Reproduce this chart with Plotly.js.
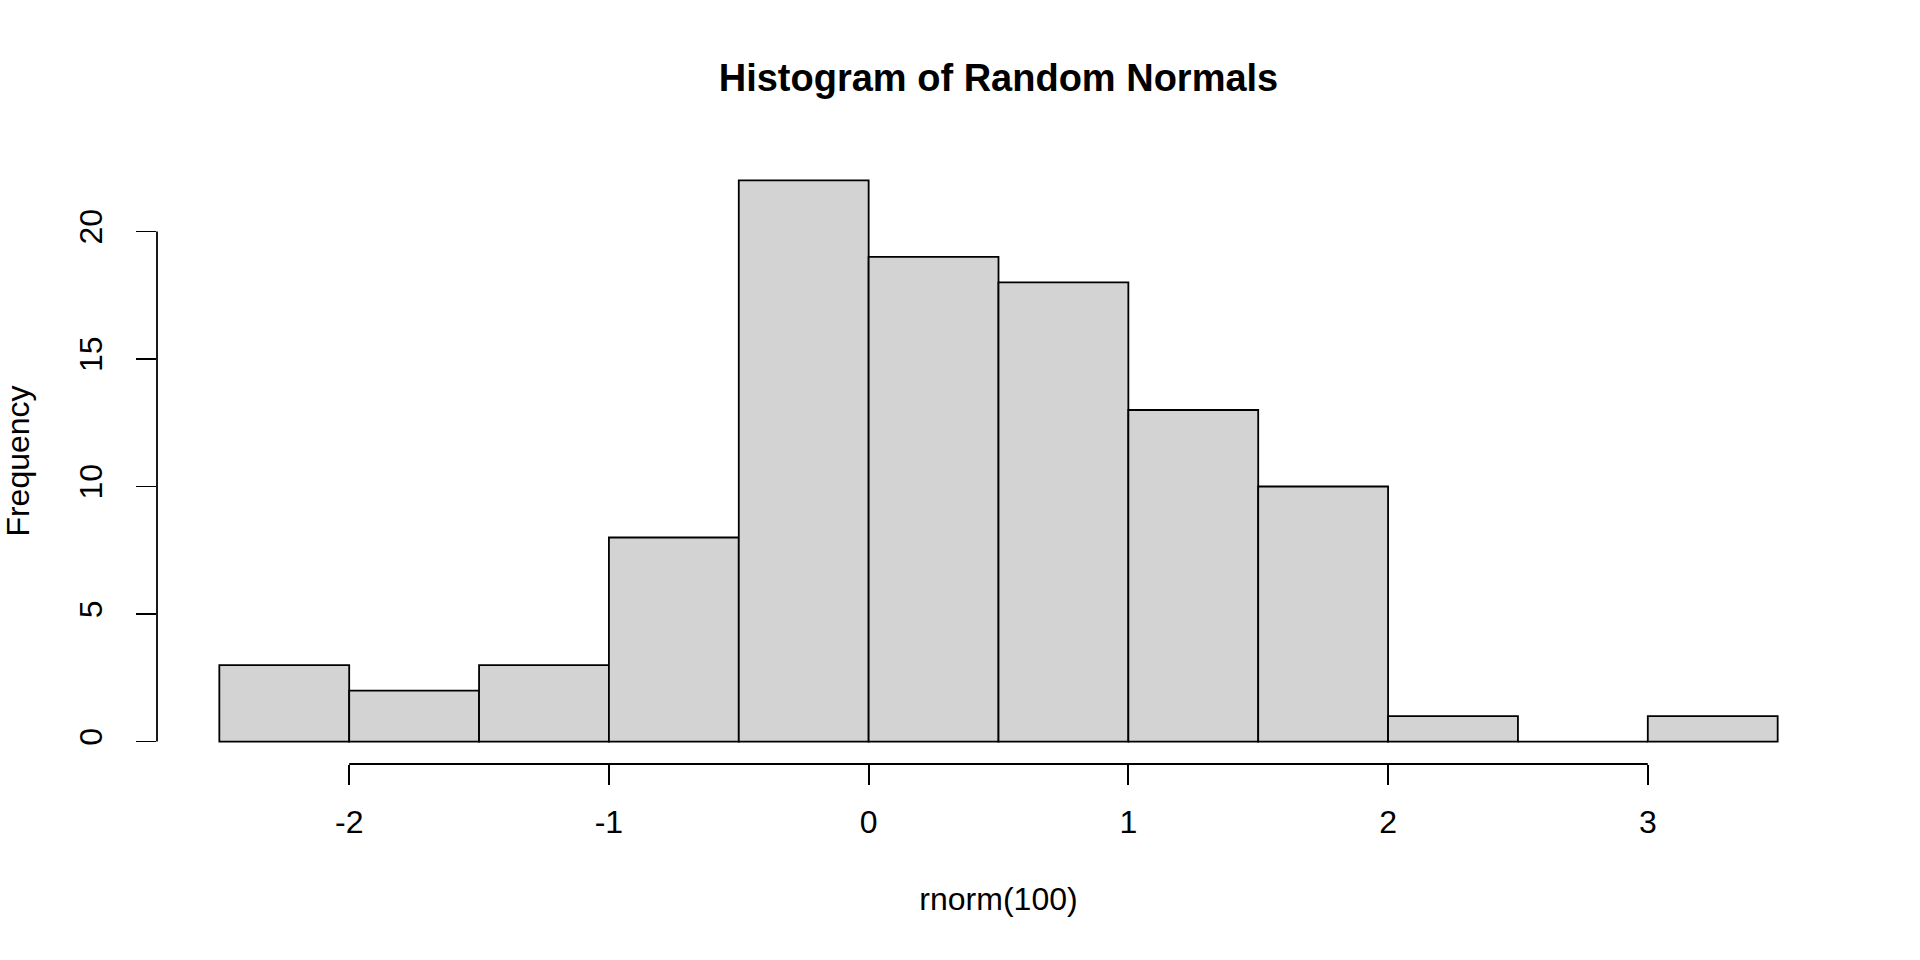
<!DOCTYPE html>
<html>
<head>
<meta charset="utf-8">
<script src="https://cdn.plot.ly/plotly-3.0.1.min.js"></script>
<style>html,body{margin:0;padding:0;background:#fff;}#chart{width:1920px;height:960px;}</style>
</head>
<body>
<div id="chart"></div>
<script>
// Histogram bins (edges) and counts
const binStart = [-2.5, -2.0, -1.5, -1.0, -0.5, 0.0, 0.5, 1.0, 1.5, 2.0, 2.5, 3.0];
const binEnd   = [-2.0, -1.5, -1.0, -0.5, 0.0, 0.5, 1.0, 1.5, 2.0, 2.5, 3.0, 3.5];
const counts   = [3, 2, 3, 8, 22, 19, 18, 13, 10, 1, 0, 1];
const xTicks = [-2, -1, 0, 1, 2, 3];
const xTickText = ["-2", "-1", "0", "1", "2", "3"];
const yTicks = [0, 5, 10, 15, 20];
const yTickText = ["0", "5", "10", "15", "20"];
const titleText = "Histogram of Random Normals";
const xTitle = "rnorm(100)";
const yTitle = "Frequency";

const centers = binStart.map((s, i) => (s + binEnd[i]) / 2);
const widths = binStart.map((s, i) => binEnd[i] - s);

const FONT = "Liberation Sans, Arial, Helvetica, sans-serif";
const LW = 1.8;

const trace = {
  type: "bar",
  x: centers,
  y: counts,
  width: widths,
  marker: { color: "#d3d3d3", line: { color: "#000000", width: LW } },
  hoverinfo: "x+y",
  showlegend: false
};

const layout = {
  width: 1920, height: 960, autosize: false,
  paper_bgcolor: "#ffffff", plot_bgcolor: "#ffffff",
  margin: { l: 157, r: 80, t: 158, b: 196, pad: 0 },
  font: { family: FONT, size: 32, color: "#000000" },
  title: {
    text: titleText,
    font: { family: FONT, size: 38, color: "#000000", weight: "bold" },
    x: 0.5, xref: "paper", xanchor: "center",
    y: 1 - 78 / 960, yref: "container", yanchor: "middle"
  },
  bargap: 0,
  xaxis: {
    range: [-2.74, 3.74],
    showgrid: false, zeroline: false, showline: false,
    tickmode: "array", tickvals: xTicks, ticktext: xTickText,
    ticks: "outside", ticklen: 20, tickwidth: LW, tickcolor: "#000000",
    ticklabelstandoff: 10,
    tickfont: { family: FONT, size: 32, color: "#000000" },
    title: { text: xTitle, font: { family: FONT, size: 32, color: "#000000" }, standoff: 48 },
    automargin: false, fixedrange: true
  },
  yaxis: {
    range: [-0.88, 22.88],
    showgrid: false, zeroline: false, showline: false,
    tickmode: "array", tickvals: yTicks, ticktext: yTickText,
    ticks: "outside", ticklen: 20, tickwidth: LW, tickcolor: "#000000",
    tickangle: -90,
    ticklabelstandoff: 21,
    tickfont: { family: FONT, size: 32, color: "#000000" },
    title: { text: yTitle, font: { family: FONT, size: 32, color: "#000000" }, standoff: 39 },
    automargin: false, fixedrange: true
  },
  shapes: [
    { type: "line", xref: "x", yref: "paper", x0: xTicks[0], x1: xTicks[xTicks.length - 1], y0: 0, y1: 0,
      line: { color: "#000000", width: LW } },
    { type: "line", xref: "paper", yref: "y", x0: 0, x1: 0, y0: yTicks[0], y1: yTicks[yTicks.length - 1],
      line: { color: "#000000", width: LW } }
  ]
};

Plotly.newPlot("chart", [trace], layout, { displayModeBar: false, staticPlot: true });
</script>
</body>
</html>
